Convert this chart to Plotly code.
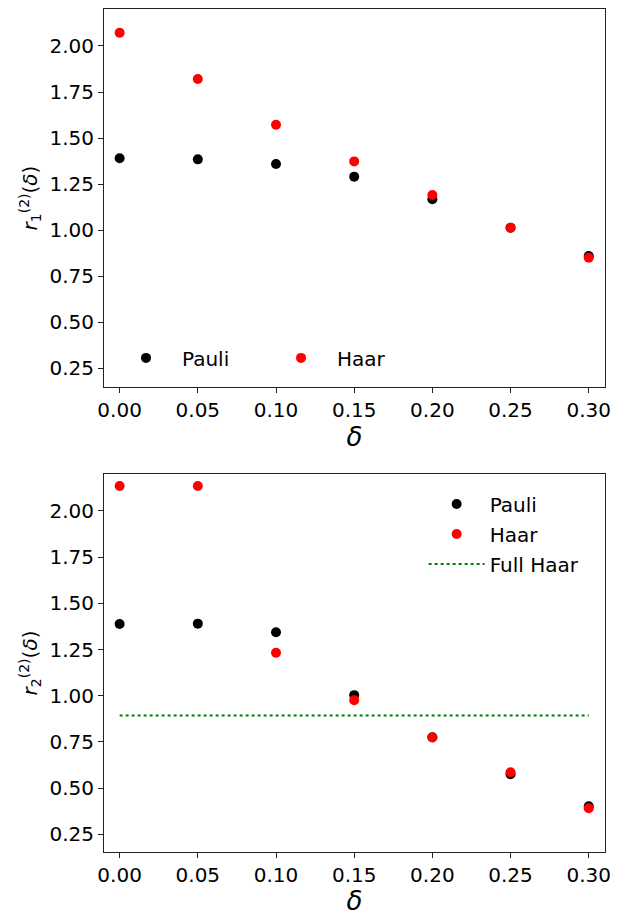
import plotly.graph_objects as go
from plotly.subplots import make_subplots

delta = [0.00, 0.05, 0.10, 0.15, 0.20, 0.25, 0.30]
r1_pauli = [1.390, 1.384, 1.359, 1.290, 1.167, 1.012, 0.859]
r1_haar = [2.072, 1.821, 1.572, 1.373, 1.190, 1.013, 0.849]
r2_pauli = [1.388, 1.390, 1.343, 1.003, 0.775, 0.575, 0.402]
r2_haar = [2.135, 2.135, 1.232, 0.976, 0.774, 0.586, 0.391]
full_haar = 0.893
xticks = [0.00, 0.05, 0.10, 0.15, 0.20, 0.25, 0.30]
yticks = [0.25, 0.50, 0.75, 1.00, 1.25, 1.50, 1.75, 2.00]

FONT = "DejaVu Sans"
fig = make_subplots(rows=2, cols=1, vertical_spacing=0.1032)

ms = 10
fig.add_trace(go.Scatter(x=delta, y=r1_pauli, mode="markers", name="Pauli",
                         marker=dict(color="black", size=ms), legend="legend"), row=1, col=1)
fig.add_trace(go.Scatter(x=delta, y=r1_haar, mode="markers", name="Haar",
                         marker=dict(color="#ff0000", size=ms), legend="legend"), row=1, col=1)
fig.add_trace(go.Scatter(x=delta, y=r2_pauli, mode="markers", name="Pauli", legendgroup="a",
                         marker=dict(color="black", size=ms), legend="legend2"), row=2, col=1)
fig.add_trace(go.Scatter(x=delta, y=r2_haar, mode="markers", name="Haar", legendgroup="b",
                         marker=dict(color="#ff0000", size=ms), legend="legend2"), row=2, col=1)
fig.add_trace(go.Scatter(x=[delta[0], delta[-1]], y=[full_haar, full_haar], mode="lines",
                         name="Full Haar", legendgroup="c",
                         line=dict(color="#008000", width=2, dash="dot"),
                         legend="legend2"), row=2, col=1)

axis_common = dict(showgrid=False, zeroline=False, showline=True, mirror=True,
                   linecolor="#222", linewidth=1, ticks="outside", ticklen=5,
                   tickcolor="#222", tickfont=dict(family=FONT, size=20, color="black"))

for r in (1, 2):
    fig.update_xaxes(range=[-0.01, 0.3104], tickvals=xticks, tickformat=".2f",
                     title=dict(text="<i>δ</i>", font=dict(family=FONT, size=26, color="black"), standoff=2),
                     row=r, col=1, **axis_common)
fig.update_yaxes(range=[0.147, 2.201], tickvals=yticks, tickformat=".2f",
                 title=dict(text="<i>r</i><sub>1</sub><sup>(2)</sup>(<i>δ</i>)",
                            font=dict(family=FONT, size=20, color="black"), standoff=6),
                 row=1, col=1, **axis_common)
fig.update_yaxes(range=[0.154, 2.20], tickvals=yticks, tickformat=".2f",
                 title=dict(text="<i>r</i><sub>2</sub><sup>(2)</sup>(<i>δ</i>)",
                            font=dict(family=FONT, size=20, color="black"), standoff=6),
                 row=2, col=1, **axis_common)

fig.update_layout(
    width=631, height=916,
    margin=dict(l=104, r=26, t=9, b=64),
    paper_bgcolor="white", plot_bgcolor="white",
    font=dict(family=FONT, size=20, color="black"),
    legend=dict(orientation="h", x=0.012, y=0.563, xanchor="left", yanchor="bottom",
                bgcolor="rgba(0,0,0,0)", font=dict(family=FONT, size=20),
                entrywidth=78, itemwidth=62),
    legend2=dict(orientation="v", x=0.638, y=0.436, xanchor="left", yanchor="top",
                 bgcolor="rgba(0,0,0,0)", font=dict(family=FONT, size=20),
                 itemwidth=56, tracegroupgap=1),
    showlegend=True,
)
fig.update_yaxes(domain=[0.5516, 1.0], row=1, col=1)
fig.update_yaxes(domain=[0.0, 0.4484], row=2, col=1)

fig.write_html("out.html")
